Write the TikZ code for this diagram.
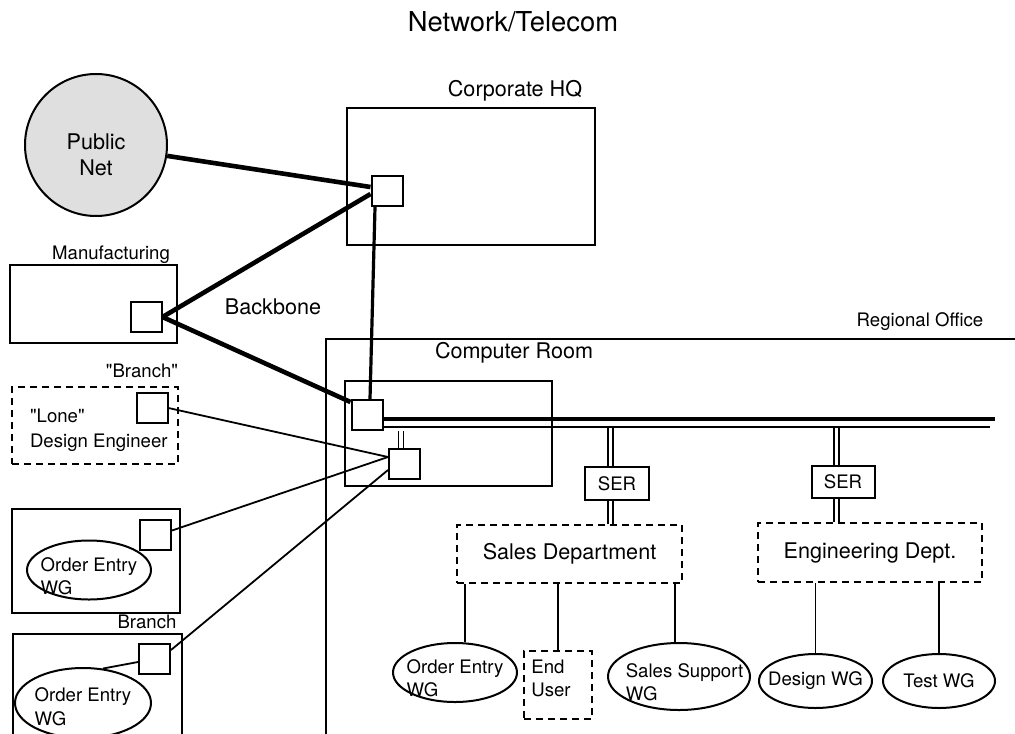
\documentclass[tikz,border=0pt]{standalone}
\usepackage{fontspec}
\setmainfont{TeX Gyre Heros}[Ligatures=TeXOff]
\usepackage{tikz}
\usetikzlibrary{positioning}
\usetikzlibrary{shapes}
\tikzstyle{site} = [draw, rectangle, line width=1pt]
\tikzstyle{rtr} = [draw, rectangle, line width=1pt, minimum width=15.5pt, minimum height=15pt, inner sep=0pt]
\tikzstyle{grp} = [draw, dash pattern=on 3.5pt off 2.5pt, line width=1.2pt]
\tikzstyle{wg} = [draw, ellipse, line width=1pt, inner sep=0pt]
\tikzstyle{backbone} = [draw, line width=2.3pt]
\tikzstyle{link} = [draw, line width=0.9pt]
\tikzstyle{lbl} = [font=\fontsize{10.8}{13}\selectfont]
\tikzstyle{slbl} = [font=\fontsize{9.3}{11.5}\selectfont]

\begin{document}
\begin{tikzpicture}[x=0.5pt, y=-0.5pt]
	\useasboundingbox (0,0) rectangle (1015,733);
	\clip (0,0) rectangle (1015,733);

	\node[font=\fontsize{13.7}{16}\selectfont] (title) at (513,22) {Network/Telecom};

	% regional office and computer room
	\node[site, line width=1.2pt, minimum width=352pt, minimum height=205.5pt] (reg) at (678,544.5) {};
	\node[slbl] (reglbl) at (920,322) {Regional Office};
	\node[lbl] (crlbl) at (514,353) {Computer Room};
	\node[site, minimum width=103.5pt, minimum height=52.5pt] (cr) at (448.5,433.5) {};
	\node[rtr] (rtA) at (367,415) {};
	\node[rtr] (rtB) at (404.5,463.5) {};

	% corporate HQ, public net, manufacturing
	\node[site, minimum width=124pt, minimum height=68.5pt] (hq) at (471,176.5) {};
	\node[lbl] (hqlbl) at (515,91) {Corporate HQ};
	\node[rtr] (hqR) at (387,191) {};
	\node[draw, circle, fill=gray!25, line width=1pt, minimum size=71pt,
		label={[lbl, align=center, yshift=-5pt]center:Public\\Net}] (pub) at (96,145) {};
	\node[site, minimum width=83.5pt, minimum height=39pt] (mfg) at (93.5,304) {};
	\node[slbl] (mfglbl) at (111,255) {Manufacturing};
	\node[rtr] (mfgR) at (146,317) {};
	\node[lbl] (bblbl) at (273,307) {Backbone};

	% branches
	\node[grp, minimum width=83pt, minimum height=38.5pt] (lone) at (95,425.5) {};
	\node[slbl] (lonelbl) at (142,371) {"Branch"};
	\node[rtr] (loneR) at (152,408) {};
	\node[slbl, align=left, anchor=west, font=\fontsize{9.3}{12.5}\selectfont] (lonetxt) at (23,430.5) {"Lone"\\Design Engineer};

	\node[site, minimum width=84pt, minimum height=52pt] (br1) at (96,561) {};
	\node[rtr] (br1R) at (155.5,534.5) {};
	\node[wg, minimum width=62pt, minimum height=29.5pt,
		label={[slbl, align=left, yshift=-3pt]center:Order Entry\\WG}] (oe1) at (89,570) {};

	\node[slbl] (br2lbl) at (147,622) {Branch};
	\node[site, minimum width=84.5pt, minimum height=58pt] (br2) at (97.5,692) {};
	\node[rtr] (br2R) at (154.5,659) {};
	\node[wg, minimum width=68pt, minimum height=35pt,
		label={[slbl, align=left, font=\fontsize{9.3}{12}\selectfont, yshift=-2pt]center:Order Entry\\WG}] (oe2) at (83,703) {};

	% departments
	\node[site, slbl, minimum width=32pt, minimum height=16.5pt] (ser1) at (617,483.5) {SER};
	\node[site, slbl, minimum width=31.5pt, minimum height=16pt] (ser2) at (843,482) {SER};
	\node[grp, lbl, minimum width=112.5pt, minimum height=29pt] (sales) at (569.5,554) {Sales Department};
	\node[grp, lbl, minimum width=112pt, minimum height=29.5pt] (eng) at (870,552.5) {Engineering Dept.};

	\node[wg, minimum width=62pt, minimum height=29.5pt,
		label={[slbl, align=left, yshift=-3pt]center:Order Entry\\WG}] (oe3) at (455,672.5) {};
	\node[grp, minimum width=34pt, minimum height=34pt,
		label={[slbl, align=left, xshift=-3.5pt, yshift=3.5pt]center:End\\User}] (eu) at (558,685) {};
	\node[wg, minimum width=71pt, minimum height=33.5pt,
		label={[slbl, align=left, xshift=2.75pt, yshift=-3pt]center:Sales Support\\WG}] (ss) at (679,676.5) {};
	\node[wg, minimum width=56.5pt, minimum height=27pt, label={[slbl]center:Design WG}] (dwg) at (815.5,681) {};
	\node[wg, minimum width=56pt, minimum height=27pt, label={[slbl]center:Test WG}] (twg) at (939,681) {};

	% backbone
	\draw[backbone] (pub) -- ([yshift=2pt]hqR.west);
	\draw[backbone] ([yshift=-1.5pt]hqR.west) -- (mfgR.east);
	\draw[backbone] (mfgR.east) -- ([yshift=-1.5pt]rtA.north west);
	\draw[line width=1.6pt] ([xshift=-6pt]hqR.south) -- ([xshift=1.5pt]rtA.north);

	% LAN bus
	\coordinate (busA) at (995,419);
	\coordinate (busB) at (990,427);
	\draw[line width=1.6pt] ([yshift=-2pt]rtA.east) -- (busA);
	\draw[line width=1pt] ([yshift=-6pt]rtA.east) -- (busB);

	\foreach \dx in {-3pt,-0.5pt} {
		\coordinate (c) at ([xshift=\dx]rtB.north);
		\draw[link] (c) -- (c |- rtA.south);
	}
	\foreach \s/\g in {ser1/sales, ser2/eng} {
		\foreach \dx in {-4.5pt,-2pt} {
			\coordinate (t) at ([xshift=\dx]\s.north);
			\coordinate (b) at ([xshift=\dx]\s.south);
			\draw[link] (t) -- (t |- busB);
			\draw[link] (b) -- (b |- \g.north);
		}
	}

	% dial-in lines
	\draw[link] (loneR.east) -- ([yshift=3.25pt]rtB.west);
	\draw[link] ([yshift=2pt]br1R.east) -- ([yshift=3.25pt]rtB.west);
	\draw[link] ([yshift=4.5pt]br2R.east) -- ([yshift=-3.25pt]rtB.west);
	\draw[link] (oe2.60) -- ([yshift=-1.5pt]br2R.west);

	% workgroups
	\draw[link] (oe3.72) -- (oe3.72 |- sales.south);
	\draw[link] (eu.north) -- (eu.north |- sales.south);
	\draw[link] (ss.97) -- (ss.97 |- sales.south);
	\draw[link] (dwg.north) -- (dwg.north |- eng.south);
	\draw[link] (twg.north) -- (twg.north |- eng.south);

\end{tikzpicture}
\end{document}
